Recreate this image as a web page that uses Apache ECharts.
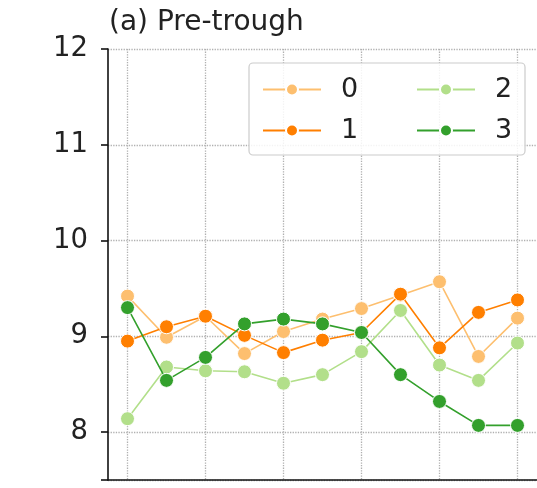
<!DOCTYPE html>
<html>
<head>
<meta charset="utf-8">
<script src="https://cdn.jsdelivr.net/npm/echarts@6/dist/echarts.min.js"></script>
<style>
  html, body { margin: 0; padding: 0; background: #fff; }
  #main { width: 537px; height: 488px; }
</style>
</head>
<body>
<div id="main"></div>
<script>
var steps = ['0', '1', '2', '3', '4', '5', '6', '7', '8', '9', '10'];
var names = ['0', '1', '2', '3'];
var colors = ['#fdbf6f', '#ff7f00', '#b2df8a', '#33a02c'];
var s0 = [9.42, 8.99, 9.21, 8.82, 9.05, 9.18, 9.29, 9.43, 9.57, 8.79, 9.19];
var s1 = [8.95, 9.10, 9.21, 9.01, 8.83, 8.96, 9.04, 9.44, 8.88, 9.25, 9.38];
var s2 = [8.14, 8.68, 8.64, 8.63, 8.51, 8.60, 8.84, 9.27, 8.70, 8.54, 8.93];
var s3 = [9.30, 8.54, 8.78, 9.13, 9.18, 9.13, 9.04, 8.60, 8.32, 8.07, 8.07];
var values = [s0, s1, s2, s3];

var chart = echarts.init(document.getElementById('main'));
var font = 'DejaVu Sans';

var series = values.map(function (v, i) {
    return {
        name: names[i],
        type: 'line',
        data: v,
        symbol: 'circle',
        symbolSize: 14,
        z: 2 + i,
        lineStyle: { color: colors[i], width: 1.6 },
        itemStyle: { color: colors[i], borderColor: '#fff', borderWidth: 1 },
        emphasis: { disabled: true }
    };
});

function legendAt(left, data) {
    return {
        data: data,
        orient: 'vertical',
        left: left,
        top: 76,
        padding: 0,
        itemWidth: 58,
        itemHeight: 15,
        itemGap: 14,
        z: 10,
        textStyle: { fontFamily: font, fontSize: 27, color: '#222', padding: [0, 0, 0, 15] }
    };
}

var option = {
    animation: false,
    backgroundColor: '#fff',
    title: {
        text: '(a) Pre-trough',
        left: 104,
        top: 4,
        textStyle: { fontFamily: font, fontSize: 28, fontWeight: 'normal', color: '#222' }
    },
    legend: [legendAt(262, ['0', '1']), legendAt(416, ['2', '3'])],
    graphic: [{
        type: 'rect',
        z: 5,
        shape: { x: 249, y: 63, width: 276, height: 92, r: 4 },
        style: { fill: 'rgba(255,255,255,0.85)', stroke: '#cccccc', lineWidth: 1.2 }
    }],
    grid: { left: 108, top: 49, right: -4, bottom: 8 },
    xAxis: {
        type: 'category',
        data: steps,
        boundaryGap: true,
        axisLine: { lineStyle: { color: '#111', width: 1.6 } },
        axisTick: { alignWithLabel: true, interval: 1, length: 8, lineStyle: { color: '#111', width: 1.6 } },
        axisLabel: { show: false },
        splitLine: {
            show: true, alignWithLabel: true, interval: 1,
            lineStyle: { color: '#b0b0b0', type: 'dotted', width: 1.3 }
        }
    },
    yAxis: {
        type: 'value',
        min: 7.5,
        max: 12,
        splitNumber: 4,
        axisLine: { show: true, lineStyle: { color: '#111', width: 1.6 } },
        axisTick: { show: true, length: 7, lineStyle: { color: '#111', width: 1.6 } },
        axisLabel: {
            fontFamily: font, fontSize: 27.5, color: '#222', margin: 20,
            formatter: function (v) { return v % 1 === 0 ? String(v) : ''; }
        },
        splitLine: { lineStyle: { color: '#b0b0b0', type: 'dotted', width: 1.3 } }
    },
    series: series
};

chart.setOption(option);
</script>
</body>
</html>
